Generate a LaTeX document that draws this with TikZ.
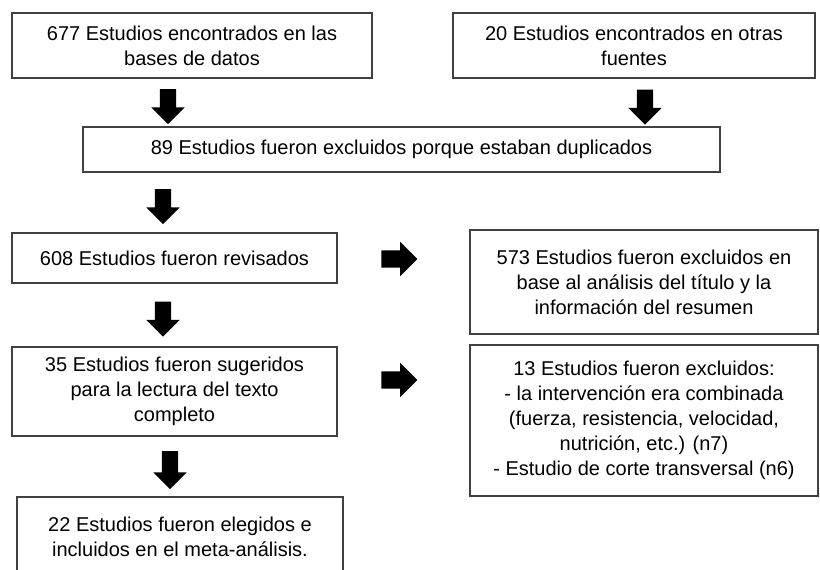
\documentclass[tikz,border=0pt]{standalone}
\usepackage{fontspec}
\setmainfont{Liberation Sans}
\usetikzlibrary{shapes.arrows}
\tikzstyle{caja}=[
	rectangle,
	draw=black!75,
	line width=1.6,
	align=center,
	inner sep=0,
	font=\fontsize{20}{25}\selectfont]
\tikzstyle{flechaabajo}=[
	single arrow,
	fill=black,
	inner xsep=0,
	inner ysep=8,
	single arrow head extend=8.5,
	minimum height=35,
	rotate=-90]
\tikzstyle{flechader}=[
	single arrow,
	fill=black,
	inner xsep=0,
	inner ysep=8.5,
	single arrow head extend=8.5,
	minimum height=36]
\begin{document}
\begin{tikzpicture}[x=1pt,y=-1pt]
		\clip (0,0) rectangle (820,570);
		\fill[white] (0,0) rectangle (820,570);
		% fuentes
		\node[caja,minimum width=360,minimum height=65] (bases) at (192,45.5)
			{677 Estudios encontrados en las\\bases de datos};
		\node[caja,minimum width=362,minimum height=65] (otras) at (634,45.5)
			{20 Estudios encontrados en otras\\fuentes};
		\node[flechaabajo] (f1) at (168,102.5) {};
		\node[flechaabajo] (f2) at (645,103) {};
		\node[caja,minimum width=637,minimum height=45] (dupl) at (401.5,149.5)
			{89 Estudios fueron excluidos porque estaban duplicados};
		\node[flechaabajo] (f3) at (163,202.5) {};
		% revision
		\node[caja,minimum width=325,minimum height=50] (rev) at (174.5,258)
			{608 Estudios fueron revisados};
		\node[flechader] (d1) at (395,259) {};
		\node[caja,minimum width=348,minimum height=104] (exc1) at (644,282)
			{573 Estudios fueron excluidos en\\base al análisis del título y la\\información del resumen};
		\node[flechaabajo] (f4) at (163,315) {};
		\node[caja,minimum width=325,minimum height=89] (sug) at (174.5,391.5)
			{35 Estudios fueron sugeridos\\para la lectura del texto\\completo};
		\node[flechader] (d2) at (395,380) {};
		\node[caja,minimum width=348,minimum height=151] (exc2) at (644,420.5)
			{13 Estudios fueron excluidos:\\- la intervención era combinada\\(fuerza, resistencia, velocidad,\\nutrición, etc.) (n7)\\- Estudio de corte transversal (n6)};
		\node[flechaabajo,minimum height=38] (f5) at (170,466) {};
		% incluidos
		\node[caja,minimum width=326,minimum height=80] (incl) at (180,537)
			{22 Estudios fueron elegidos e\\incluidos en el meta-análisis.};
	\end{tikzpicture}
\end{document}
